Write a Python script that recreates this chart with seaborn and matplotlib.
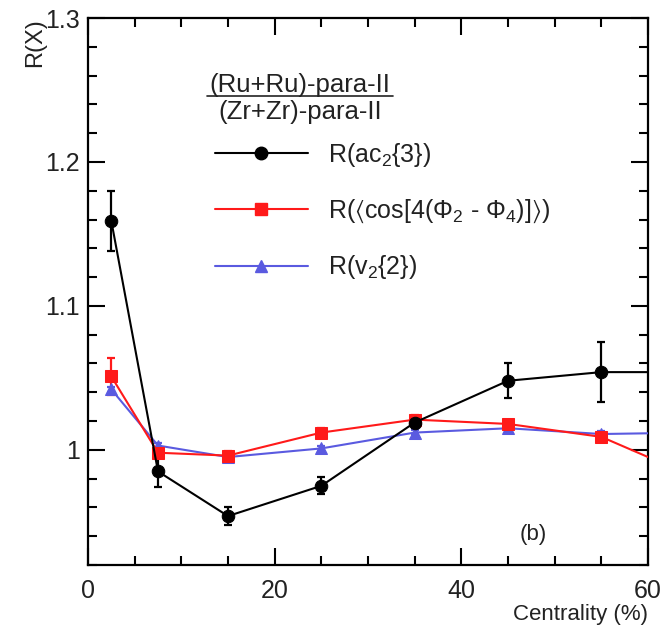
import numpy as np
import pandas as pd
import matplotlib
matplotlib.use("Agg")
import matplotlib.pyplot as plt
import seaborn as sns
from matplotlib.ticker import MultipleLocator
from matplotlib.lines import Line2D

sns.set_theme(style="ticks")
plt.rcParams["font.family"] = ["Liberation Sans", "DejaVu Sans"]
plt.rcParams["mathtext.fontset"] = "custom"
plt.rcParams["mathtext.rm"] = "Liberation Sans"
plt.rcParams["mathtext.it"] = "Liberation Sans"
plt.rcParams["mathtext.fallback"] = "stixsans"

# centrality bin centres (last one sits outside the 0-60 window, the line runs to the edge)
centrality = [2.5, 7.5, 15, 25, 35, 45, 55, 65]

ac2 = [1.159, 0.985, 0.954, 0.975, 1.019, 1.048, 1.054, 1.054]
ac2_err = [0.021, 0.011, 0.006, 0.006, 0.004, 0.012, 0.021, 0.0]

cos4 = [1.051, 0.998, 0.996, 1.012, 1.021, 1.018, 1.009, 0.981]
cos4_err = [0.013, 0.004, 0.003, 0.003, 0.003, 0.003, 0.003, 0.0]

v22 = [1.042, 1.003, 0.995, 1.001, 1.012, 1.015, 1.011, 1.012]
v22_err = [0.002, 0.002, 0.002, 0.002, 0.002, 0.002, 0.002, 0.0]

labels = [r"R(ac$_{2}${3})",
          r"R($\langle$cos[4(Φ$_{2}$ - Φ$_{4}$)]$\rangle$)",
          r"R(v$_{2}${2})"]
colors = ["black", "#ff1a1a", "#5a5ae0"]
markers = ["o", "s", "^"]

df = pd.concat([
    pd.DataFrame({"cent": centrality, "R": ac2, "err": ac2_err, "obs": labels[0]}),
    pd.DataFrame({"cent": centrality, "R": cos4, "err": cos4_err, "obs": labels[1]}),
    pd.DataFrame({"cent": centrality, "R": v22, "err": v22_err, "obs": labels[2]}),
], ignore_index=True)

fig = plt.figure(figsize=(6.64, 6.32), dpi=100)
ax = fig.add_axes([0.1325, 0.106, 0.8435, 0.8655])

# draw back to front: blue, red, black
for lab, col, mk in list(zip(labels, colors, markers))[::-1]:
    sub = df[df["obs"] == lab]
    ax.errorbar(sub["cent"], sub["R"], yerr=sub["err"], fmt="none",
                ecolor=col, elinewidth=1.6, capsize=3, capthick=1.6, zorder=2)
    sns.lineplot(data=sub, x="cent", y="R", ax=ax, color=col, marker=mk,
                 markersize=9, markeredgecolor=col, linewidth=1.5,
                 legend=False, zorder=3)

ax.set_xlim(0, 60)
ax.set_ylim(0.92, 1.3)
ax.xaxis.set_major_locator(MultipleLocator(20))
ax.xaxis.set_minor_locator(MultipleLocator(5))
ax.yaxis.set_minor_locator(MultipleLocator(0.02))
ax.set_yticks([1.0, 1.1, 1.2, 1.3])
ax.set_yticklabels(["1", "1.1", "1.2", "1.3"])
ax.tick_params(which="both", direction="in", top=True, right=True,
               width=1.5, labelsize=18, color="black", labelcolor="#222222")
ax.tick_params(which="major", length=12)
ax.tick_params(axis="x", which="major", pad=10)
ax.tick_params(axis="y", which="major", pad=6)
ax.tick_params(which="minor", length=6.5)
for sp in ax.spines.values():
    sp.set_linewidth(1.6)
    sp.set_color("black")

ax.set_xlabel("Centrality (%)", fontsize=16, color="#222222")
ax.xaxis.set_label_coords(1.0, -0.072)
ax.xaxis.label.set_horizontalalignment("right")
ax.set_ylabel("R(X)", fontsize=17, color="#222222")
ax.yaxis.set_label_coords(-0.075, 1.0)
ax.yaxis.label.set_horizontalalignment("right")

# legend header as a fraction
ax.text(0.379, 0.877, "(Ru+Ru)-para-II", transform=ax.transAxes,
        fontsize=18.5, ha="center", va="center", color="#222222")
ax.plot([0.2125, 0.545], [0.857, 0.857], transform=ax.transAxes,
        color="#222222", linewidth=1.2)
ax.text(0.379, 0.829, "(Zr+Zr)-para-II", transform=ax.transAxes,
        fontsize=18.5, ha="center", va="center", color="#222222")

handles = [Line2D([], [], color=c, marker=m, markersize=9, linewidth=1.5)
           for c, m in zip(colors, markers)]
ax.legend(handles, labels, loc="upper left", bbox_to_anchor=(0.187, 0.817),
          frameon=False, fontsize=18, handlelength=3.7, handletextpad=0.8,
          labelspacing=1.15, labelcolor="#222222")

ax.text(0.795, 0.055, "(b)", transform=ax.transAxes, fontsize=16,
        ha="center", va="center", color="#222222")

fig.savefig("out.png", dpi=100)
